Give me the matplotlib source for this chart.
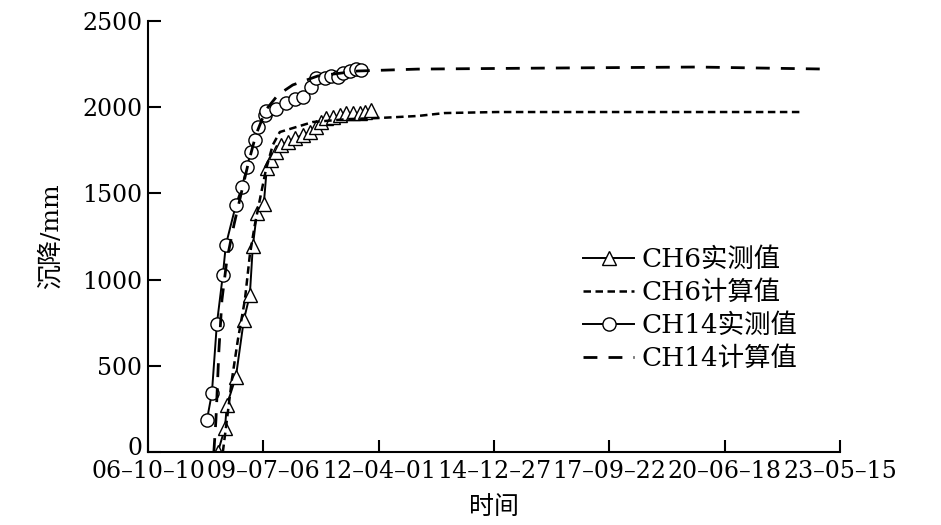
import matplotlib
matplotlib.use("Agg")
import matplotlib.pyplot as plt
import matplotlib.transforms as mtransforms
import numpy as np

plt.rcParams['font.family'] = ['DejaVu Serif', 'Noto Sans CJK SC']
plt.rcParams['axes.unicode_minus'] = False

# days counted from 2006-10-10
tick_days = [0, 1000, 2000, 3000, 4000, 5000, 6000]
tick_labels = ["06–10–10", "09–07–06", "12–04–01", "14–12–27",
               "17–09–22", "20–06–18", "23–05–15"]

# CH6 measured
ch6_day = [606, 667, 684, 762, 831, 883, 909, 944, 1004, 1030, 1065, 1108,
           1152, 1212, 1273, 1342, 1403, 1455, 1498, 1541, 1602, 1662, 1714,
           1775, 1835, 1879, 1931]
ch6_val = [0, 139, 273, 435, 766, 911, 1195, 1386, 1438, 1647, 1694, 1740,
           1781, 1798, 1821, 1839, 1856, 1885, 1914, 1937, 1943, 1955, 1966,
           1966, 1966, 1972, 1984]

# CH6 calculated
ch6c_day = [649, 684, 727, 779, 840, 883, 926, 978, 1022, 1082, 1143, 1429,
            1732, 1991, 2338, 2571, 3030, 4329, 5653]
ch6c_val = [0, 186, 418, 650, 882, 1143, 1317, 1491, 1636, 1781, 1856, 1914,
            1931, 1937, 1949, 1966, 1972, 1972, 1972]

# CH14 measured
ch14_day = [511, 554, 597, 649, 675, 762, 814, 857, 892, 926, 952, 1013,
            1022, 1108, 1195, 1273, 1342, 1411, 1455, 1532, 1584, 1645, 1688,
            1749, 1801, 1844]
ch14_val = [186, 342, 742, 1027, 1201, 1433, 1537, 1653, 1740, 1810, 1885,
            1955, 1978, 1989, 2024, 2047, 2059, 2117, 2169, 2169, 2181, 2175,
            2198, 2210, 2221, 2216]

# CH14 calculated
ch14c_day = [571, 589, 615, 641, 684, 745, 805, 866, 935, 1022, 1126, 1255,
             1472, 1818, 2338, 3463, 4762, 5887]
ch14c_val = [0, 186, 592, 882, 1114, 1317, 1491, 1665, 1839, 1984, 2071,
             2129, 2181, 2210, 2221, 2227, 2233, 2221]

fig = plt.figure(figsize=(9.41, 5.25), dpi=100)
ax = fig.add_axes([148/941, 73/525, 692/941, 431/525])

ax.plot(ch6_day, ch6_val, '-', color='k', lw=1.4, marker='^', ms=9.5,
        mfc='white', mec='k', mew=1.0, label='CH6实测值')
ax.plot(ch6c_day, ch6c_val, color='k', lw=1.8, dashes=(3, 1.8),
        label='CH6计算值')
ax.plot(ch14_day, ch14_val, '-', color='k', lw=1.4, marker='o', ms=9.5,
        mfc='white', mec='k', mew=1.0, label='CH14实测值')
ax.plot(ch14c_day, ch14c_val, color='k', lw=2, dashes=(5, 4),
        label='CH14计算值')

ax.set_xlim(0, 6000)
ax.set_ylim(0, 2500)
ax.set_xticks(tick_days)
ax.set_xticklabels(tick_labels)
ax.set_yticks([0, 500, 1000, 1500, 2000, 2500])

ax.spines['top'].set_visible(False)
ax.spines['right'].set_visible(False)
ax.spines['left'].set_linewidth(1.5)
ax.spines['bottom'].set_linewidth(1.5)
ax.tick_params(direction='in', length=9, width=1.5, labelsize=17, pad=4)
ax.tick_params(axis='x', pad=6)

# lift the "0" a bit so it clears the first date label
lift = mtransforms.ScaledTranslation(0, 6/100, fig.dpi_scale_trans)
ylab0 = ax.get_yticklabels()[0]
ylab0.set_transform(ylab0.get_transform() + lift)

ax.set_xlabel("时间", fontsize=18, labelpad=9)
ax.set_ylabel("沉降/mm", fontsize=18, labelpad=14)

leg = ax.legend(loc='upper left', bbox_to_anchor=(583/941, 1 - 247/525),
                bbox_transform=fig.transFigure, frameon=False, fontsize=19,
                handlelength=1.95, handletextpad=0.25, labelspacing=0.3,
                borderpad=0, borderaxespad=0)

fig.savefig("out.png", dpi=100)
